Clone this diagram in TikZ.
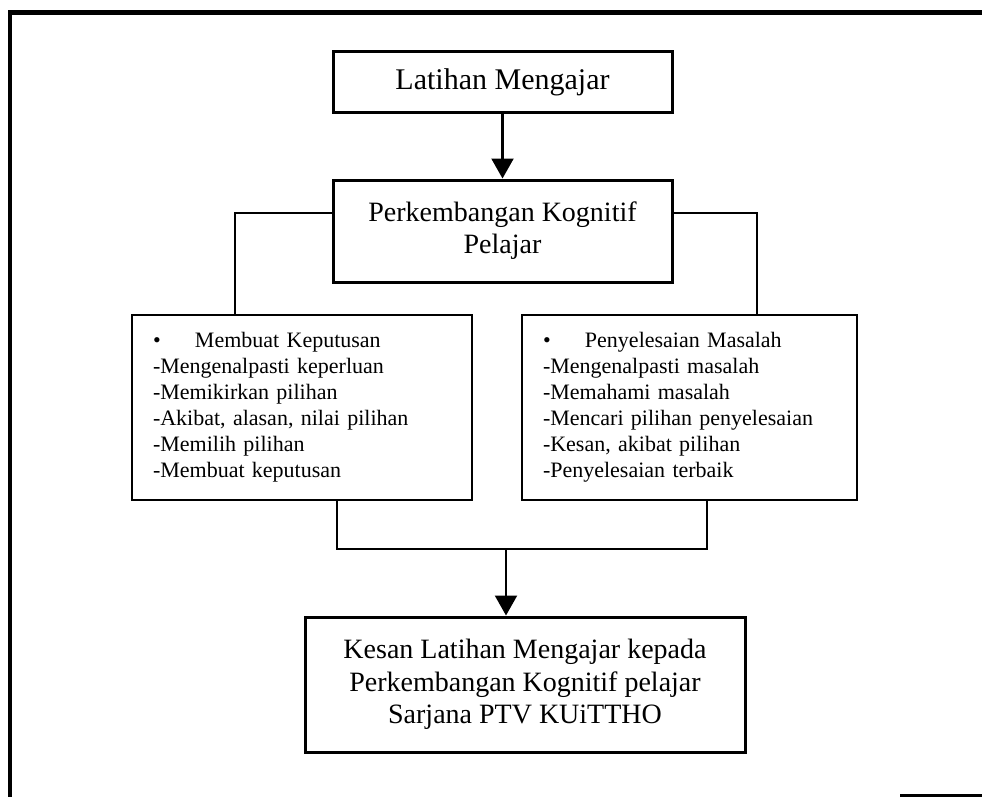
\documentclass[tikz,border=0pt]{standalone}
\usepackage{fontspec}
\setmainfont{Liberation Serif}
\usetikzlibrary{arrows.meta}
\begin{document}
\begin{tikzpicture}[x=1pt,y=-1pt,
  bigbox/.style={draw, line width=3pt, inner sep=0pt, align=center},
  listbox/.style={draw, line width=2.2pt, inner xsep=0pt, inner ysep=0pt, align=left,
     font=\fontsize{22}{26}\selectfont},
  conn/.style={line width=2pt},
  arr/.style={line width=2.2pt, -{Triangle[width=22pt,length=20pt]}},
  frameline/.style={line width=4.5pt}
]
\useasboundingbox (0,0) rectangle (982,797);
% outer frame
\draw[frameline] (982,12.5) -- (10,12.5) -- (10,797);
\draw[line width=3pt] (900,795.5) -- (982,795.5);

\node[bigbox, minimum width=339pt, minimum height=61pt, font=\fontsize{30}{36}\selectfont]
  (b1) at (502.5,82.5) {Latihan Mengajar};
\node[bigbox, minimum width=339pt, minimum height=102pt, font=\fontsize{28}{32}\selectfont]
  (b2) at (502.5,231) {Perkembangan Kognitif\\Pelajar};
\node[listbox, minimum width=340pt, minimum height=185pt, text width=298pt]
  (b3) at (302,407.5) {\makebox[42pt][l]{\textbullet}Membuat Keputusan\\
  -Mengenalpasti keperluan\\
  -Memikirkan pilihan\\
  -Akibat, alasan, nilai pilihan\\
  -Memilih pilihan\\
  -Membuat keputusan};
\node[listbox, minimum width=335pt, minimum height=185pt, text width=293pt]
  (b4) at (689.5,407.5) {\makebox[42pt][l]{\textbullet}Penyelesaian Masalah\\
  -Mengenalpasti masalah\\
  -Memahami masalah\\
  -Mencari pilihan penyelesaian\\
  -Kesan, akibat pilihan\\
  -Penyelesaian terbaik};
\node[bigbox, minimum width=440pt, minimum height=135pt, font=\fontsize{28}{32.5}\selectfont]
  (b5) at (525,684.5) {Kesan Latihan Mengajar kepada\\Perkembangan Kognitif pelajar\\Sarjana PTV KUiTTHO};

\coordinate (jl) at (337,549);
\coordinate (jr) at (707,549);
\coordinate (jm) at (506,549);

\draw[arr] (b1.south) -- (b2.north);
\draw[conn] ([yshift=18pt]b2.west) -| ([xshift=-67pt]b3.north);
\draw[conn] ([yshift=18pt]b2.east) -| ([xshift=67.5pt]b4.north);
\draw[conn] ([xshift=35pt]b3.south) |- (jl) -- (jr) -| ([xshift=17.5pt]b4.south);
\draw[arr] (jm) -- ([xshift=-19pt]b5.north);
\end{tikzpicture}
\end{document}
